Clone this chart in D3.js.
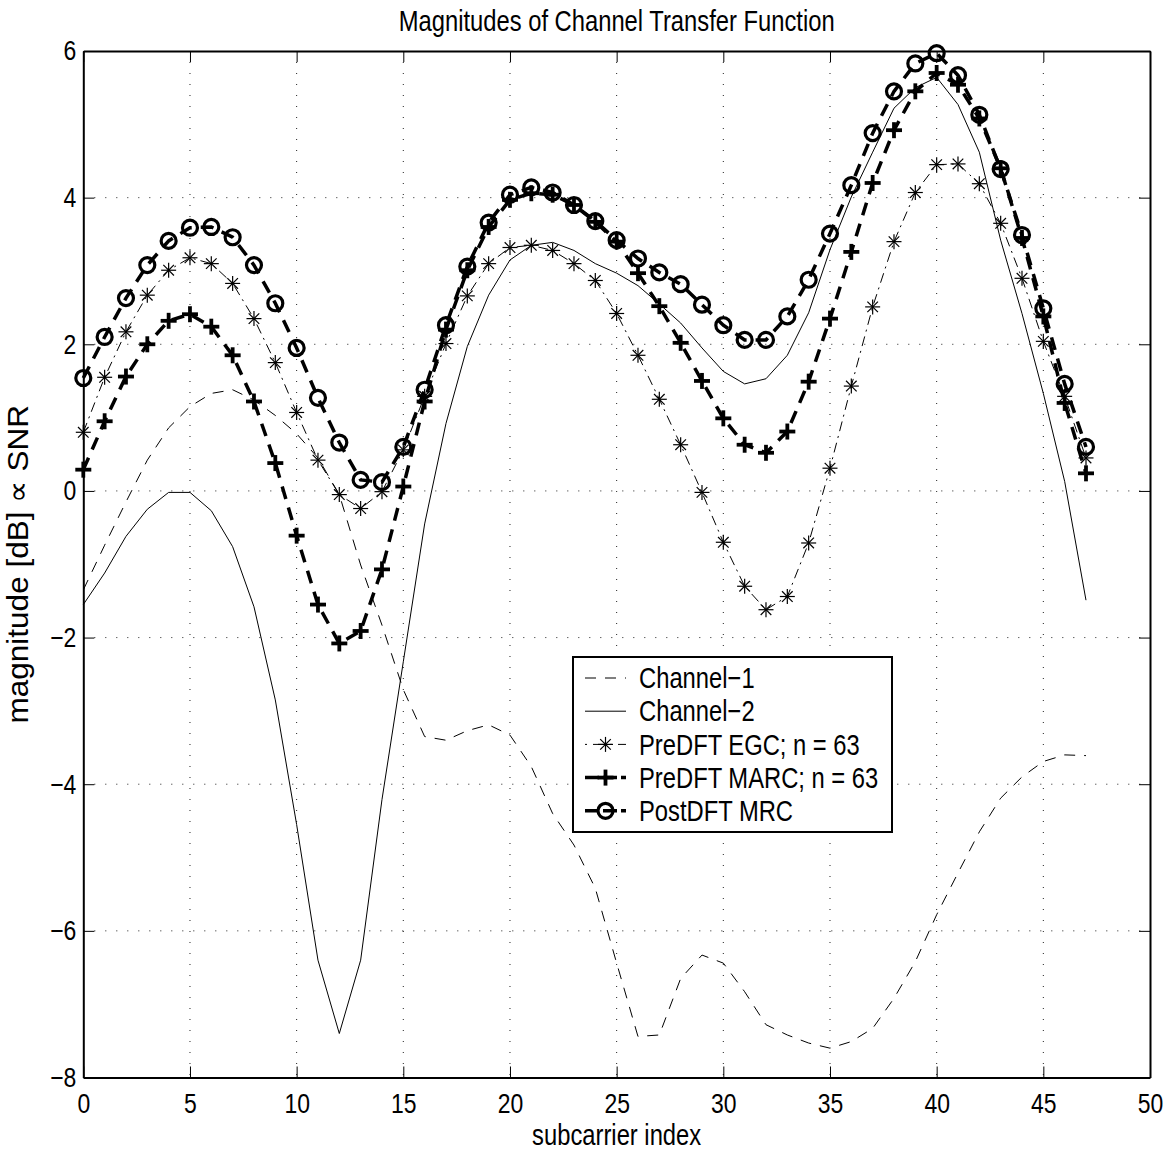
<!DOCTYPE html>
<html>
<head>
<meta charset="utf-8">
<script src="https://cdn.jsdelivr.net/npm/d3@7"></script>
<style>
  body { margin: 0; background: #fff; }
  svg { display: block; font-family: "Liberation Sans", Arial, sans-serif; }
</style>
</head>
<body>
<svg></svg>
<script>
// values (subcarrier index 0..47)
let channel1 = [-1.35, -0.74, -0.15, 0.42, 0.86, 1.15, 1.33, 1.38, 1.24, 1.03, 0.78, 0.45,
  -0.05, -1.01, -1.83, -2.71, -3.35, -3.4, -3.27, -3.19, -3.33, -3.76, -4.4, -4.83,
  -5.42, -6.44, -7.44, -7.42, -6.65, -6.33, -6.44, -6.83, -7.28, -7.42, -7.53, -7.6,
  -7.51, -7.33, -6.92, -6.42, -5.78, -5.21, -4.65, -4.19, -3.9, -3.69, -3.6, -3.61];
let channel2 = [-1.55, -1.12, -0.62, -0.25, -0.02, -0.02, -0.27, -0.76, -1.58, -2.85, -4.55, -6.4,
  -7.4, -6.4, -4.21, -2.33, -0.45, 0.92, 1.97, 2.67, 3.15, 3.35, 3.39, 3.28,
  3.1, 2.97, 2.8, 2.55, 2.29, 1.95, 1.63, 1.46, 1.53, 1.85, 2.43, 3.29,
  4.01, 4.62, 5.22, 5.5, 5.64, 5.27, 4.62, 3.42, 2.42, 1.33, 0.13, -1.49];
let egc = [0.8, 1.55, 2.17, 2.67, 3.01, 3.18, 3.1, 2.83, 2.35, 1.75, 1.07, 0.42,
  -0.05, -0.24, -0.01, 0.56, 1.29, 2.01, 2.66, 3.1, 3.32, 3.35, 3.28, 3.1,
  2.87, 2.42, 1.85, 1.25, 0.63, -0.02, -0.7, -1.3, -1.62, -1.44, -0.71, 0.31,
  1.43, 2.51, 3.4, 4.07, 4.45, 4.46, 4.19, 3.65, 2.9, 2.04, 1.29, 0.45];
let marc = [0.29, 0.95, 1.56, 2.0, 2.32, 2.41, 2.24, 1.85, 1.22, 0.38, -0.61, -1.55,
  -2.08, -1.91, -1.07, 0.06, 1.22, 2.2, 3.01, 3.6, 3.97, 4.06, 4.04, 3.9,
  3.67, 3.4, 2.97, 2.52, 2.02, 1.5, 0.99, 0.63, 0.52, 0.81, 1.49, 2.35,
  3.26, 4.2, 4.92, 5.45, 5.7, 5.54, 5.08, 4.4, 3.45, 2.38, 1.2, 0.24];
let mrc = [1.54, 2.1, 2.63, 3.08, 3.41, 3.59, 3.6, 3.46, 3.08, 2.56, 1.95, 1.27,
  0.66, 0.15, 0.12, 0.6, 1.38, 2.26, 3.06, 3.66, 4.04, 4.14, 4.07, 3.9,
  3.68, 3.42, 3.17, 2.98, 2.82, 2.54, 2.26, 2.06, 2.06, 2.38, 2.88, 3.51,
  4.17, 4.88, 5.45, 5.83, 5.97, 5.67, 5.13, 4.39, 3.49, 2.49, 1.46, 0.6];

let xTicks = [0, 5, 10, 15, 20, 25, 30, 35, 40, 45, 50];
let yTicks = [-8, -6, -4, -2, 0, 2, 4, 6];
let legendLabels = ["Channel\u22121", "Channel\u22122", "PreDFT EGC; n = 63", "PreDFT MARC; n = 63", "PostDFT MRC"];

let width = 1163;
let height = 1152;
let margin = { top: 51, right: 13, bottom: 74.5, left: 83.3 };
let fontSize = 29;
let tickFont = 28;
let squeeze = 0.82; // the reference font is a narrow Helvetica

let svg = d3.select("svg").attr("width", width).attr("height", height);

let xScale = d3.scaleLinear().domain([0, 50]).range([margin.left, width - margin.right]);
let yScale = d3.scaleLinear().domain([-8, 6]).range([height - margin.bottom, margin.top]);

let fmt = d => (d < 0 ? "\u2212" + Math.abs(d) : "" + d);

// narrow text: place at (x,y), then squeeze horizontally
let addText = (parent, x, y, str, anchor, size, rotate, sx) => {
  return parent.append("text")
    .attr("transform", "translate(" + x + "," + y + ")" + (rotate ? " rotate(" + rotate + ")" : "") + " scale(" + (sx || squeeze) + ",1)")
    .attr("text-anchor", anchor)
    .attr("font-size", size)
    .text(str);
};

// grid
let grid = svg.append("g").attr("stroke", "#222").attr("stroke-width", 1).attr("stroke-dasharray", "1,10");
grid.selectAll(".gx").data(xTicks.slice(1, -1)).enter().append("line")
  .attr("x1", d => xScale(d)).attr("x2", d => xScale(d))
  .attr("y1", yScale(6)).attr("y2", yScale(-8));
grid.selectAll(".gy").data(yTicks.slice(1, -1)).enter().append("line")
  .attr("y1", d => yScale(d)).attr("y2", d => yScale(d))
  .attr("x1", xScale(0)).attr("x2", xScale(50));

// axes (ticks inward on all four sides)
let styleAxis = g => {
  g.select(".domain").attr("stroke-width", 2);
  g.selectAll(".tick line").attr("stroke-width", 1);
  g.selectAll("text").each(function () {
    let t = d3.select(this);
    let x = +t.attr("x") || 0;
    t.attr("x", x / squeeze).attr("transform", "scale(" + squeeze + ",1)");
  });
  g.selectAll("text").attr("font-size", tickFont).attr("fill", "#000").attr("font-family", null);
};
svg.append("g").attr("transform", "translate(0," + yScale(-8) + ")")
  .call(d3.axisBottom(xScale).tickValues(xTicks).tickSize(-11).tickSizeOuter(0).tickPadding(16).tickFormat(fmt))
  .call(styleAxis);
svg.append("g").attr("transform", "translate(0," + yScale(6) + ")")
  .call(d3.axisTop(xScale).tickValues(xTicks).tickSize(-11).tickSizeOuter(0).tickFormat(""))
  .call(styleAxis);
svg.append("g").attr("transform", "translate(" + xScale(0) + ",0)")
  .call(d3.axisLeft(yScale).tickValues(yTicks).tickSize(-11).tickSizeOuter(0).tickPadding(7).tickFormat(fmt))
  .call(styleAxis);
svg.append("g").attr("transform", "translate(" + xScale(50) + ",0)")
  .call(d3.axisRight(yScale).tickValues(yTicks).tickSize(-11).tickSizeOuter(0).tickFormat(""))
  .call(styleAxis);

// markers
let drawStar = (g, cx, cy) => {
  let p = g.append("g").attr("stroke", "#000").attr("stroke-width", 1.2).attr("fill", "none");
  p.append("line").attr("x1", cx - 7.5).attr("x2", cx + 7.5).attr("y1", cy).attr("y2", cy);
  p.append("line").attr("x1", cx).attr("x2", cx).attr("y1", cy - 7.5).attr("y2", cy + 7.5);
  p.append("line").attr("x1", cx - 5.3).attr("x2", cx + 5.3).attr("y1", cy - 5.3).attr("y2", cy + 5.3);
  p.append("line").attr("x1", cx - 5.3).attr("x2", cx + 5.3).attr("y1", cy + 5.3).attr("y2", cy - 5.3);
};
let drawPlus = (g, cx, cy) => {
  let p = g.append("g").attr("stroke", "#000").attr("stroke-width", 3.8);
  p.append("line").attr("x1", cx - 8).attr("x2", cx + 8).attr("y1", cy).attr("y2", cy);
  p.append("line").attr("x1", cx).attr("x2", cx).attr("y1", cy - 8).attr("y2", cy + 8);
};
let drawCircle = (g, cx, cy) => {
  g.append("circle").attr("cx", cx).attr("cy", cy).attr("r", 7.5)
    .attr("fill", "none").attr("stroke", "#000").attr("stroke-width", 3.2);
};

let series = [
  { name: legendLabels[0], values: channel1, width: 1, dash: "11,9", marker: null },
  { name: legendLabels[1], values: channel2, width: 1, dash: null, marker: null },
  { name: legendLabels[2], values: egc, width: 1, dash: "10,5,2,5", marker: drawStar },
  { name: legendLabels[3], values: marc, width: 3.5, dash: "13,9", marker: drawPlus },
  { name: legendLabels[4], values: mrc, width: 3.5, dash: "13,9", marker: drawCircle },
];

let line = d3.line().x((d, i) => xScale(i)).y(d => yScale(d));

series.forEach(s => {
  let g = svg.append("g");
  g.append("path").datum(s.values)
    .attr("d", line)
    .attr("fill", "none")
    .attr("stroke", "#000")
    .attr("stroke-width", s.width)
    .attr("stroke-dasharray", s.dash);
  if (s.marker) {
    s.values.forEach((v, i) => s.marker(g, xScale(i), yScale(v)));
  }
});

// legend
let lg = svg.append("g");
lg.append("rect").attr("x", 573).attr("y", 657).attr("width", 319).attr("height", 175)
  .attr("fill", "#fff").attr("stroke", "#000").attr("stroke-width", 2);
series.forEach((s, i) => {
  let cy = 678 + i * 33.2;
  let x0 = 585, x1 = 626;
  let sample = lg.append("line").attr("x1", x0).attr("x2", x1).attr("y1", cy).attr("y2", cy)
    .attr("stroke", "#000").attr("stroke-width", s.width);
  if (s.dash) sample.attr("stroke-dasharray", i == 0 ? "11,9" : i == 2 ? "2,6,11,6" : "14,4");
  if (s.marker) s.marker(lg, (x0 + x1) / 2, cy);
  addText(lg, 639, cy, s.name, "start", fontSize).attr("dy", "0.35em");
});

// titles
addText(svg, (xScale(0) + xScale(50)) / 2, 31, "Magnitudes of Channel Transfer Function", "middle", fontSize);
addText(svg, (xScale(0) + xScale(50)) / 2, 1145, "subcarrier index", "middle", fontSize);
addText(svg, 28, (yScale(-8) + yScale(6)) / 2, "magnitude [dB] \u221D SNR", "middle", 30, -90, 1.05);
</script>
</body>
</html>
